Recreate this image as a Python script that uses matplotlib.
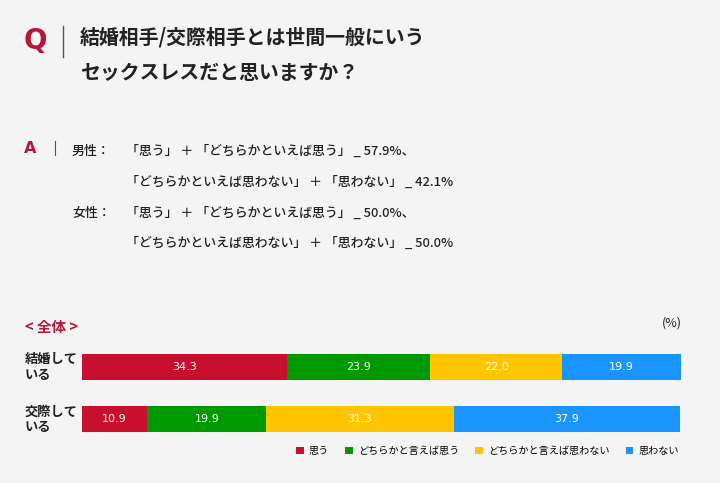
import matplotlib
matplotlib.use("Agg")
import matplotlib.pyplot as plt
from matplotlib.patches import Patch
from matplotlib.lines import Line2D
import numpy as np

plt.rcParams['font.family'] = ['Noto Sans CJK JP', 'DejaVu Sans']

categories = ["結婚して\nいる", "交際して\nいる"]
series_names = ["思う", "どちらかと言えば思う", "どちらかと言えば思わない", "思わない"]
values = {
    "思う": [34.3, 10.9],
    "どちらかと言えば思う": [23.9, 19.9],
    "どちらかと言えば思わない": [22.0, 31.3],
    "思わない": [19.9, 37.9],
}
colors = ["#c8102e", "#009a00", "#ffc600", "#1a95ff"]

W, H = 720, 483
BG = "#f4f4f4"
RED = "#b5163a"
fig = plt.figure(figsize=(W / 100, H / 100), dpi=100, facecolor=BG)

def fx(x): return x / W
def fy(y): return 1 - y / H

# Question block
fig.text(fx(24), fy(41), "Q", color=RED, fontsize=20, fontweight='heavy', va='center', ha='left', family='DejaVu Sans')
fig.add_artist(Line2D([fx(63), fx(63)], [fy(26), fy(57)], color="#555555", lw=1))
fig.text(fx(80), fy(37), "結婚相手/交際相手とは世間一般にいう", fontsize=14.3, fontweight='bold', va='center', ha='left', color="#222222")
fig.text(fx(80), fy(72), "セックスレスだと思いますか？", fontsize=14.3, fontweight='bold', va='center', ha='left', color="#222222")

# Answer block
fig.text(fx(24), fy(148), "A", color=RED, fontsize=11.5, fontweight='bold', va='center', ha='left', family='DejaVu Sans')
fig.add_artist(Line2D([fx(55), fx(55)], [fy(141), fy(155)], color="#555555", lw=0.8))
ans_lines = [
    ("男性：", "「思う」 ＋ 「どちらかといえば思う」 _ 57.9%、", 151),
    ("", "「どちらかといえば思わない」 ＋ 「思わない」 _ 42.1%", 182),
    ("女性：", "「思う」 ＋ 「どちらかといえば思う」 _ 50.0%、", 213),
    ("", "「どちらかといえば思わない」 ＋ 「思わない」 _ 50.0%", 243),
]
for lab, txt, y in ans_lines:
    if lab:
        fig.text(fx(72), fy(y), lab, fontsize=9.3, fontweight='medium', va='center', ha='left', color="#222222")
    fig.text(fx(126), fy(y), txt, fontsize=9.3, fontweight='medium', va='center', ha='left', color="#222222")

# Section label
fig.text(fx(25), fy(327), "< 全体 >", color=RED, fontsize=10.5, fontweight='bold', va='center', ha='left')
fig.text(fx(682), fy(323), "(%)", fontsize=9, va='center', ha='right', color="#222222")

# Bars
ax = fig.add_axes([fx(82), fy(445), (681 - 82) / W, 104 / H])
ax.set_facecolor(BG)
y = np.arange(len(categories))
left = np.zeros(len(categories))
for name, c in zip(series_names, colors):
    v = np.array(values[name])
    ax.barh(y, v, left=left, height=0.5, color=c, edgecolor='none')
    for yi, (l, vi) in enumerate(zip(left, v)):
        ax.text(l + vi / 2, yi, f"{vi:.1f}", color='white', fontsize=8, ha='center', va='center', family='DejaVu Sans')
    left += v
ax.set_xlim(0, left.max())
ax.set_ylim(1.5, -0.5)
ax.axis('off')

for yi, cat in enumerate(categories):
    ax.text(-57 / 599 * left.max(), yi, cat, fontsize=9.5, fontweight='bold', ha='left', va='center',
            color="#222222", linespacing=1.1)

handles = [Patch(facecolor=c, edgecolor='none') for c in colors]
leg = fig.legend(handles, series_names, loc='center right', bbox_to_anchor=(fx(688), fy(451)),
                 ncol=4, frameon=False, fontsize=7.3, handlelength=0.75, handleheight=0.75,
                 handletextpad=0.5, columnspacing=1.6)

fig.savefig("out.png", dpi=100, facecolor=BG)
